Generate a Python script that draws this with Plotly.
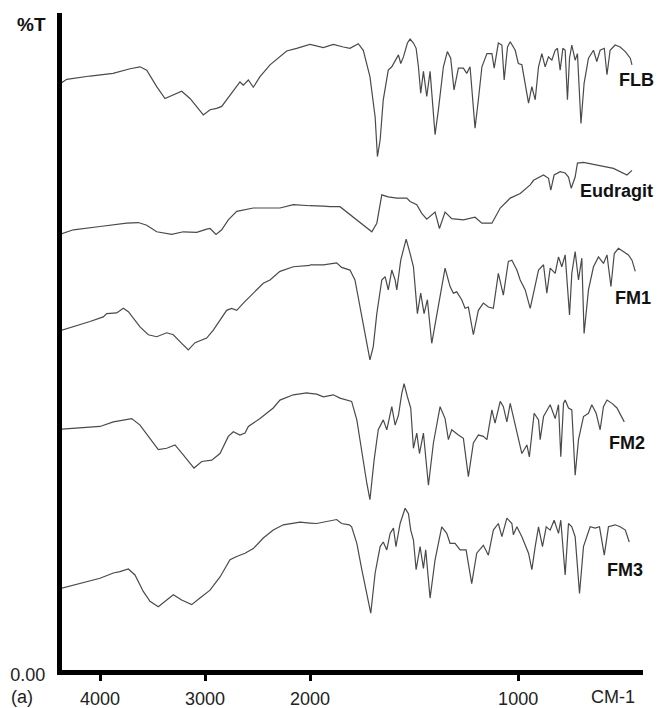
import plotly.graph_objects as go

# ---- data: wavenumber (cm-1) and %T (offset-stacked spectra) ----
flb_wn = [4374, 4317, 4095, 3876, 3714, 3619, 3555, 3460, 3381, 3302, 3222, 3143, 3016, 2952, 2889, 2841, 2794, 2714, 2667, 2635, 2587, 2540, 2476, 2381, 2286, 2222, 2127, 2000, 1936, 1888, 1840, 1808, 1768, 1744, 1712, 1687, 1676, 1663, 1648, 1624, 1607, 1591, 1575, 1564, 1551, 1532, 1519, 1503, 1490, 1479, 1468, 1455, 1439, 1423, 1399, 1383, 1359, 1340, 1324, 1308, 1287, 1263, 1247, 1231, 1207, 1191, 1174, 1150, 1126, 1115, 1095, 1078, 1067, 1051, 1038, 1014, 999, 982, 958, 950, 934, 918, 902, 886, 870, 854, 838, 822, 811, 798, 785, 774, 763, 753, 742, 726, 715, 698, 683, 662, 638, 622, 606, 586, 573, 558, 534, 510, 485, 461, 453]
flb_t = [89.2, 89.8, 90.3, 90.7, 91.4, 91.7, 91.2, 88.7, 86.9, 87.4, 88.0, 86.9, 84.4, 85.2, 85.4, 85.7, 86.7, 88.4, 89.4, 88.9, 89.7, 88.6, 90.2, 92.0, 93.2, 94.1, 94.5, 95.1, 94.6, 95.1, 94.7, 94.5, 95.2, 94.2, 90.2, 84.1, 78.1, 80.6, 86.7, 91.2, 91.7, 92.7, 93.5, 92.2, 93.2, 95.3, 95.9, 95.3, 94.5, 91.7, 87.7, 91.0, 87.2, 91.0, 81.4, 85.2, 91.7, 94.0, 93.0, 88.2, 91.5, 91.5, 90.7, 91.7, 82.4, 86.7, 91.7, 93.7, 93.7, 91.5, 95.3, 95.0, 89.7, 94.7, 95.5, 94.2, 92.2, 92.0, 87.7, 86.2, 88.7, 86.7, 91.7, 93.7, 91.7, 93.2, 92.7, 94.2, 94.5, 91.2, 94.5, 94.2, 86.7, 93.0, 95.0, 92.7, 93.7, 83.1, 89.2, 93.0, 94.2, 92.5, 94.2, 94.5, 90.5, 94.2, 95.0, 94.7, 94.0, 93.0, 92.0]

eud_wn = [4365, 4254, 4000, 3746, 3635, 3555, 3460, 3317, 3207, 3079, 2984, 2952, 2895, 2841, 2778, 2698, 2540, 2286, 2159, 1936, 1904, 1856, 1824, 1760, 1703, 1679, 1655, 1624, 1583, 1535, 1519, 1487, 1463, 1439, 1399, 1378, 1351, 1319, 1263, 1207, 1174, 1126, 1086, 1038, 990, 942, 926, 878, 854, 843, 827, 798, 774, 758, 745, 726, 715, 686, 622, 542, 477, 453]
eud_t = [66.4, 67.0, 67.5, 68.0, 68.1, 67.7, 66.7, 66.3, 66.7, 66.6, 67.1, 67.2, 66.3, 67.0, 68.5, 69.8, 70.3, 70.3, 70.8, 70.6, 70.5, 70.5, 69.7, 68.2, 66.7, 68.0, 72.3, 72.0, 71.8, 71.8, 71.3, 70.8, 69.5, 68.6, 69.7, 67.2, 69.7, 68.7, 68.5, 68.9, 68.0, 68.0, 70.3, 71.8, 72.5, 73.8, 74.5, 75.3, 74.8, 73.0, 75.3, 75.8, 75.6, 75.0, 73.3, 75.0, 77.1, 77.2, 76.8, 76.3, 75.3, 76.0]

fm1_wn = [4365, 4254, 4095, 3969, 3936, 3841, 3778, 3730, 3683, 3619, 3540, 3460, 3365, 3302, 3222, 3159, 3095, 2984, 2921, 2841, 2794, 2746, 2698, 2635, 2540, 2445, 2381, 2286, 2159, 2000, 1936, 1872, 1848, 1808, 1784, 1760, 1736, 1712, 1696, 1679, 1655, 1639, 1624, 1607, 1591, 1583, 1564, 1551, 1538, 1519, 1503, 1484, 1468, 1452, 1436, 1415, 1391, 1351, 1327, 1311, 1295, 1271, 1255, 1239, 1215, 1191, 1167, 1143, 1119, 1095, 1071, 1047, 1030, 1006, 990, 966, 942, 923, 902, 878, 862, 846, 822, 806, 790, 774, 753, 742, 726, 710, 694, 683, 662, 638, 614, 590, 573, 554, 538, 518, 494, 470, 453, 437]
fm1_t = [51.8, 52.3, 53.1, 53.8, 54.3, 54.4, 55.1, 54.6, 53.6, 52.3, 51.1, 50.8, 51.4, 51.1, 49.8, 48.8, 49.9, 50.6, 51.8, 53.8, 54.8, 55.1, 54.8, 55.9, 57.4, 58.9, 59.4, 60.7, 61.4, 61.7, 61.7, 62.0, 61.3, 60.9, 59.4, 55.3, 51.3, 47.3, 49.3, 54.3, 59.4, 59.9, 57.9, 60.9, 59.4, 57.9, 62.4, 63.9, 65.6, 63.4, 61.4, 54.3, 57.4, 54.3, 56.4, 49.8, 54.3, 61.2, 58.4, 57.4, 57.6, 56.4, 55.1, 55.3, 51.1, 54.8, 55.9, 55.3, 55.1, 60.4, 57.1, 62.2, 62.4, 60.9, 59.4, 57.9, 55.1, 57.9, 60.9, 61.7, 57.4, 61.2, 60.4, 62.9, 61.4, 63.2, 54.1, 60.4, 63.7, 59.4, 62.7, 51.3, 57.9, 61.4, 62.9, 61.9, 63.2, 58.4, 63.4, 64.2, 63.7, 63.2, 62.4, 60.7]

fm2_wn = [4365, 4190, 4000, 3873, 3762, 3698, 3619, 3540, 3445, 3365, 3286, 3207, 3105, 3031, 2936, 2857, 2778, 2730, 2667, 2619, 2587, 2476, 2350, 2286, 2159, 2031, 1968, 1936, 1888, 1856, 1816, 1800, 1775, 1751, 1727, 1712, 1692, 1672, 1648, 1631, 1607, 1591, 1575, 1559, 1548, 1532, 1516, 1503, 1487, 1474, 1455, 1431, 1407, 1375, 1351, 1335, 1319, 1287, 1263, 1239, 1215, 1191, 1167, 1150, 1126, 1111, 1086, 1071, 1054, 1038, 1023, 999, 982, 958, 946, 923, 902, 894, 878, 846, 822, 806, 795, 782, 774, 758, 742, 726, 710, 686, 662, 646, 625, 606, 590, 573, 549, 525, 501, 490]
fm2_t = [36.8, 37.0, 37.2, 37.9, 38.2, 38.4, 37.4, 35.7, 33.7, 33.9, 34.4, 32.9, 30.9, 31.9, 32.1, 33.1, 35.7, 36.4, 35.9, 36.2, 37.2, 38.4, 40.0, 41.2, 42.0, 42.3, 42.1, 41.7, 42.0, 41.5, 41.2, 41.0, 38.2, 33.1, 28.6, 26.1, 32.1, 36.7, 38.2, 36.7, 40.2, 37.4, 38.9, 42.2, 43.7, 41.7, 40.0, 33.9, 36.2, 33.1, 36.2, 28.3, 34.7, 40.2, 38.4, 35.2, 36.7, 35.9, 35.4, 29.6, 34.7, 35.9, 35.7, 35.2, 39.7, 37.7, 41.0, 40.2, 37.9, 40.7, 38.7, 35.2, 33.1, 34.4, 32.6, 39.2, 38.2, 35.2, 38.7, 40.5, 38.4, 40.5, 32.6, 40.7, 41.2, 40.0, 39.7, 29.8, 35.2, 38.7, 39.2, 40.5, 39.2, 36.7, 40.2, 41.2, 40.7, 40.0, 38.7, 37.9]

fm3_wn = [4365, 4190, 4000, 3873, 3810, 3730, 3667, 3588, 3524, 3445, 3365, 3302, 3222, 3127, 3048, 2952, 2857, 2762, 2698, 2619, 2540, 2445, 2350, 2254, 2095, 1968, 1920, 1872, 1848, 1811, 1800, 1775, 1751, 1727, 1708, 1687, 1663, 1648, 1631, 1615, 1599, 1587, 1567, 1543, 1527, 1516, 1503, 1490, 1471, 1455, 1444, 1423, 1399, 1367, 1343, 1327, 1303, 1279, 1250, 1223, 1199, 1167, 1143, 1119, 1095, 1078, 1054, 1030, 1023, 1006, 982, 950, 934, 918, 902, 883, 865, 846, 827, 806, 795, 774, 758, 742, 726, 705, 686, 654, 630, 609, 586, 566, 534, 510, 485, 466]
fm3_t = [12.7, 13.4, 14.2, 15.0, 15.2, 15.6, 14.7, 12.2, 10.7, 9.9, 10.9, 11.7, 10.9, 10.2, 11.2, 12.4, 14.4, 17.0, 17.5, 18.0, 18.7, 20.3, 21.5, 22.3, 22.7, 22.5, 22.8, 23.1, 22.5, 22.3, 22.0, 19.5, 15.5, 11.9, 8.9, 15.0, 19.0, 19.7, 18.5, 21.0, 21.8, 19.0, 22.5, 24.8, 24.0, 21.5, 20.0, 15.5, 19.0, 15.7, 18.5, 11.2, 17.0, 22.0, 21.0, 19.5, 19.5, 18.5, 18.5, 13.4, 18.0, 19.2, 17.7, 21.5, 22.5, 20.5, 23.3, 22.5, 20.8, 22.0, 20.5, 18.0, 15.5, 19.0, 22.0, 19.0, 22.0, 21.5, 23.0, 21.0, 23.0, 14.7, 22.5, 22.0, 20.5, 11.9, 19.0, 22.0, 21.8, 22.0, 17.7, 22.0, 22.3, 22.0, 21.5, 19.7]

series_names = ["FLB", "Eudragit", "FM1", "FM2", "FM3"]
series_wn = [flb_wn, eud_wn, fm1_wn, fm2_wn, fm3_wn]
series_t = [flb_t, eud_t, fm1_t, fm2_t, fm3_t]
# label anchor (left edge) in data coordinates
label_wn = [524, 711, 543, 572, 582]
label_t = [89.7, 72.9, 56.7, 34.7, 15.5]

x_ticks_left = [4000, 3000]
x_ticks_right = [2000, 1000]

LINE = "#4a4a4a"
FONT = "Liberation Sans, Arial, sans-serif"

W, H = 660, 708
L, R, T, B = 62, 17, 13, 38
pw, ph = W - L - R, H - T - B
split = (310 - L) / pw


def paper(px, py):
    return (px - L) / pw, (H - B - py) / ph


fig = go.Figure()
for name, wn, t in zip(series_names, series_wn, series_t):
    for xa in ("x", "x2"):
        fig.add_trace(go.Scatter(x=wn, y=t, mode="lines", xaxis=xa, yaxis="y",
                                 line=dict(color=LINE, width=1.2), showlegend=False,
                                 name=name, hoverinfo="skip"))

annotations = []
for name, lx, ly in zip(series_names, label_wn, label_t):
    annotations.append(dict(x=lx, y=ly, xref="x2", yref="y", text="<b>%s</b>" % name,
                            showarrow=False, xanchor="left", yanchor="middle",
                            font=dict(family=FONT, size=18, color="#111")))

px_, py_ = paper(48, 24)
annotations.append(dict(x=px_, y=py_, xref="paper", yref="paper", text="<b>%T</b>",
                        showarrow=False, xanchor="right", yanchor="middle",
                        font=dict(family=FONT, size=19, color="#111")))
px_, py_ = paper(22, 697)
annotations.append(dict(x=px_, y=py_, xref="paper", yref="paper", text="(a)",
                        showarrow=False, xanchor="center", yanchor="middle",
                        font=dict(family=FONT, size=18, color="#222")))
px_, py_ = paper(613, 697)
annotations.append(dict(x=px_, y=py_, xref="paper", yref="paper", text="CM-1",
                        showarrow=False, xanchor="center", yanchor="middle",
                        font=dict(family=FONT, size=18, color="#222")))

axis_common = dict(showgrid=False, zeroline=False, showline=True, linecolor="black",
                   linewidth=5, ticks="outside", ticklen=6, tickwidth=3, tickcolor="black",
                   tickfont=dict(family=FONT, size=18, color="#222"), ticklabelstandoff=2)

fig.update_layout(
    width=W, height=H,
    margin=dict(l=L, r=R, t=T, b=B, autoexpand=False),
    paper_bgcolor="white", plot_bgcolor="white",
    xaxis=dict(domain=[0, split], range=[4362, 2000], anchor="y",
               tickvals=x_ticks_left, ticktext=[str(v) for v in x_ticks_left], **axis_common),
    xaxis2=dict(domain=[split, 1], range=[2000, 400], anchor="y",
                tickvals=x_ticks_right, ticktext=[str(v) for v in x_ticks_right], **axis_common),
    yaxis=dict(domain=[0, 1], range=[0.3, 99.85], anchor="x", showgrid=False,
               zeroline=False, showline=True, linecolor="black", linewidth=5,
               ticks="", tickvals=[0.3], ticktext=["0.00"], ticklabelstandoff=8,
               ticklabelshift=5,
               tickfont=dict(family=FONT, size=18, color="#222")),
    annotations=annotations,
)

fig.write_html("out.html", config={"displayModeBar": False},
               post_script="document.body.style.margin='0';")
